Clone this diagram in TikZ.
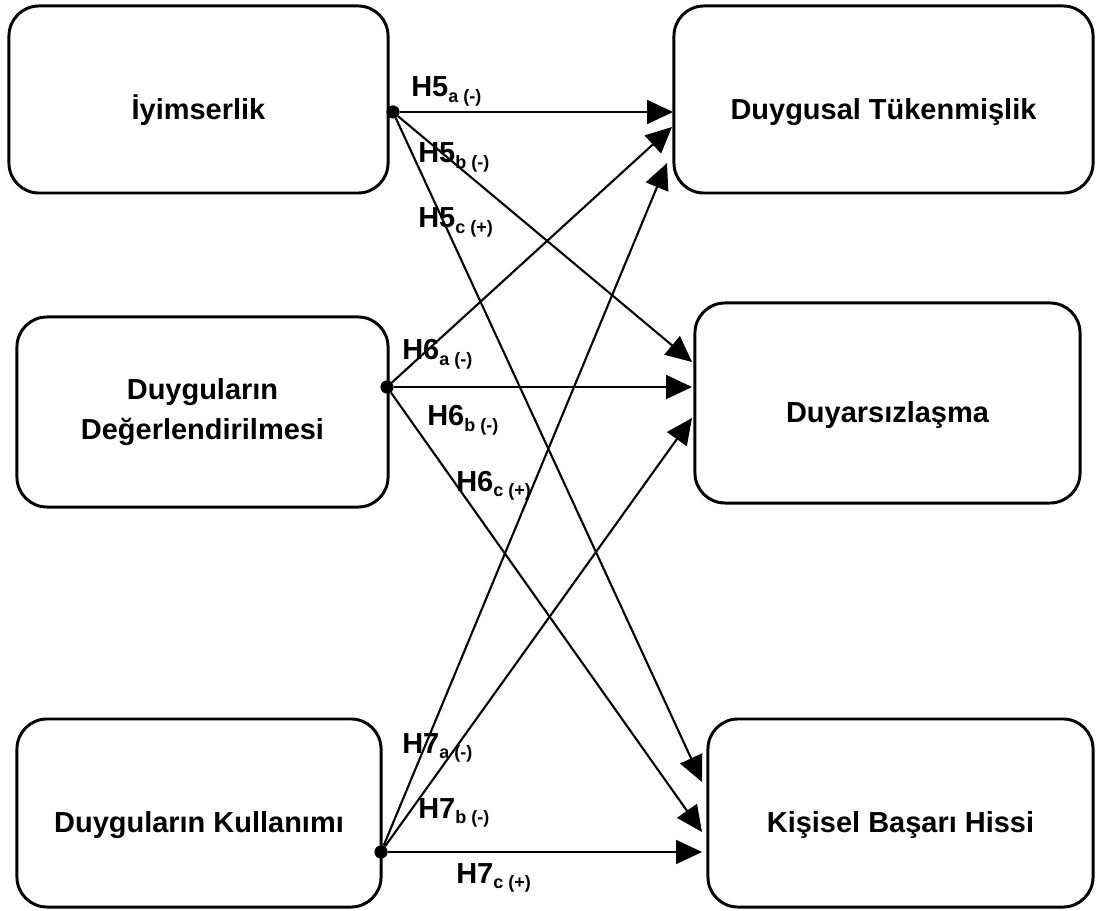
\documentclass[tikz,border=0pt]{standalone}
\usepackage{fontspec}
\setmainfont{Liberation Sans}
\usetikzlibrary{arrows.meta, positioning, calc}

% subscript of a hypothesis label
\newcommand{\hypsub}[1]{\raisebox{-0.18em}{\fontsize{12.8}{14}\selectfont #1}}

\tikzset{
    construct/.style={draw, line width=2.1pt, rounded corners=0.75cm, align=center,
        inner sep=0pt, font=\bfseries\fontsize{20.6}{28}\selectfont},
    single/.style={text height=33pt, text depth=5pt},
    junction/.style={circle, fill, inner sep=0pt, minimum size=0.33cm},
    effect/.style={line width=1.5pt, -{Triangle[length=0.65cm, width=0.6cm]}},
    hyplabel/.style={anchor=base west, inner sep=0pt, font=\bfseries\fontsize{20.6}{24}\selectfont}
}

\begin{document}
\begin{tikzpicture}[x=0.025cm, y=-0.025cm]
    \useasboundingbox (0,0) rectangle (1098,911);

    % independent variables
    \node[construct, single, minimum width=9.475cm, minimum height=4.675cm] (iyim) at (198.5,99.5) {İyimserlik};
    \node[construct, minimum width=9.275cm, minimum height=4.75cm] (deger) at (202.5,412) {Duyguların\\Değerlendirilmesi};
    \node[construct, single, minimum width=9.1cm, minimum height=4.7cm] (kullan) at (199,813) {Duyguların Kullanımı};

    % burnout dimensions
    \node[construct, single, minimum width=10.475cm, minimum height=4.675cm] (tuken) at (883.5,99.5) {Duygusal Tükenmişlik};
    \node[construct, single, minimum width=9.625cm, minimum height=5cm] (duyar) at (887.5,403) {Duyarsızlaşma};
    \node[construct, single, minimum width=9.625cm, minimum height=4.7cm] (basari) at (900.5,813) {Kişisel Başarı Hissi};

    % starting points
    \node[junction] (j5) at (393,112) {};
    \node[junction] (j6) at (387,387) {};
    \node[junction] (j7) at (381,852) {};

    % arrow ends
    \coordinate (tuken-a) at (673,112);
    \coordinate (tuken-b) at (672,127);
    \coordinate (tuken-c) at (667,163);
    \coordinate (duyar-a) at (692,362);
    \coordinate (duyar-b) at (692,387);
    \coordinate (duyar-c) at (692,418);
    \coordinate (basari-a) at (702,782);
    \coordinate (basari-b) at (702,832);
    \coordinate (basari-c) at (702,852);

    \foreach \from/\to in {
        j5/tuken-a, j5/duyar-a, j5/basari-a,
        j6/tuken-b, j6/duyar-b, j6/basari-b,
        j7/tuken-c, j7/duyar-c, j7/basari-c} {
        \draw[effect] (\from) -- (\to);
    }

    % hypothesis labels
    \foreach \h/\s/\sign/\x/\y in {
        5/a/-/411/97, 5/b/-/418/163, 5/c/+/418/228,
        6/a/-/402/360, 6/b/-/427/426, 6/c/+/456/491,
        7/a/-/402/753, 7/b/-/418/818, 7/c/+/456/883} {
        \node[hyplabel] (h\h\s) at (\x,\y) {H\h\hypsub{\s\ (\sign)}};
    }
\end{tikzpicture}
\end{document}
